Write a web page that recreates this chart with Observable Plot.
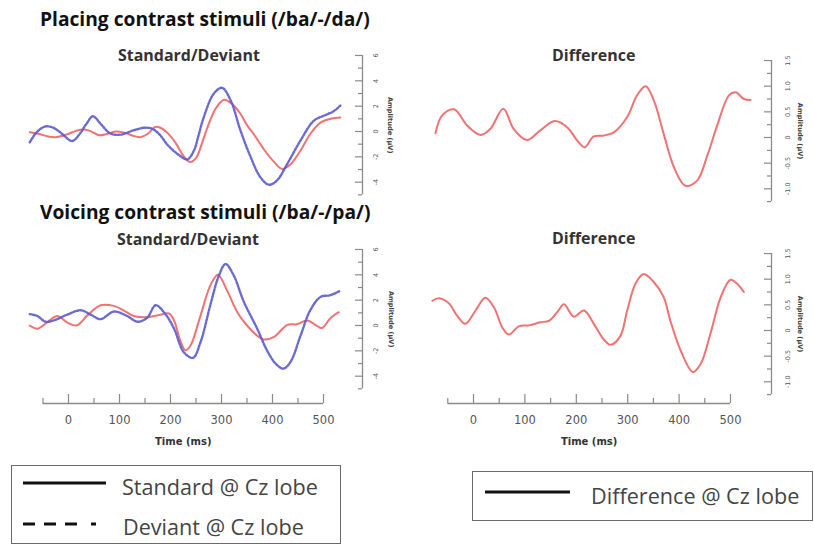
<!DOCTYPE html>
<html><head><meta charset="utf-8">
<script src="https://cdn.jsdelivr.net/npm/d3@7"></script>
<script src="https://cdn.jsdelivr.net/npm/@observablehq/plot@0.6"></script>
<style>
html,body{margin:0;padding:0;background:#fff;}
#root{position:relative;width:814px;height:545px;overflow:hidden;background:#fff;}
.abs{position:absolute;white-space:nowrap;line-height:1;}
</style></head><body><div id="root"></div>
<script>
// ---------------- DATA ----------------
// Placing contrast (/ba/-/da/) — Standard (solid red)
const placingStdTime = [-76,-61,-40,-25,-5,15,28,42,60,75,92,110,128,141,155,170,180,195,210,225,238,250,262,275,290,305,320,337,350,363,383,403,419,435,455,474,494,514,533];
const placingStdAmp  = [-0.05,-0.15,-0.4,-0.45,-0.25,0.05,0.15,0.05,-0.3,-0.2,0.0,-0.1,-0.35,-0.45,-0.2,0.35,0.3,-0.15,-0.9,-1.9,-2.4,-2.1,-0.9,0.6,1.9,2.5,2.2,1.4,0.5,-0.2,-1.4,-2.4,-2.95,-2.6,-1.5,-0.2,0.7,1.0,1.1];
// Placing contrast — Deviant (dotted blue)
const placingDevTime = [-76,-61,-45,-30,-15,7,20,35,48,63,82,102,128,150,165,180,193,213,233,246,255,265,285,301,318,337,357,376,393,409,429,455,481,501,520,533];
const placingDevAmp  = [-0.85,0.0,0.4,0.3,-0.1,-0.75,-0.3,0.6,1.2,0.6,-0.15,-0.25,0.1,0.3,0.2,-0.3,-1.0,-1.75,-2.2,-1.5,-0.3,1.1,3.0,3.45,2.45,0.1,-2.0,-3.6,-4.2,-3.85,-2.55,-0.7,0.85,1.25,1.6,2.05];
// Placing contrast — Difference
const placingDiffTime = [-74,-61,-38,-12,14,33,58,78,104,130,158,182,202,216,234,254,273,299,318,335,351,370,390,412,435,455,474,497,510,526,539];
const placingDiffAmp  = [0.08,0.43,0.55,0.23,0.05,0.17,0.56,0.17,-0.05,0.14,0.32,0.2,-0.06,-0.19,0.02,0.04,0.1,0.4,0.82,1.0,0.72,0.07,-0.58,-0.94,-0.84,-0.35,0.23,0.82,0.88,0.75,0.73];
// Voicing contrast (/ba/-/pa/) — Standard
const voicingStdTime = [-76,-61,-42,-22,-3,16,37,63,89,108,128,154,180,197,207,220,229,239,259,278,293,311,331,350,370,383,403,429,448,468,488,497,514,530];
const voicingStdAmp  = [0,-0.25,0.25,0.75,0.25,0.0,0.8,1.6,1.55,1.2,0.75,0.65,0.85,0.95,0.4,-1.3,-1.95,-1.6,0.8,3.15,4.0,2.75,1.05,0,-0.8,-1.1,-0.9,0.05,0.1,0.4,-0.05,-0.2,0.6,1.05];
// Voicing contrast — Deviant
const voicingDevTime = [-76,-61,-45,-29,-3,24,46,63,89,115,135,154,171,190,207,226,244,259,278,295,308,324,344,370,389,406,421,435,455,474,494,514,533];
const voicingDevAmp  = [0.9,0.75,0.3,0.4,0.85,1.2,0.8,0.5,1.1,0.75,0.3,0.6,1.6,0.9,-0.25,-2.1,-2.55,-1.3,1.6,3.95,4.85,3.95,1.85,-0.25,-1.95,-3.0,-3.4,-2.9,-0.8,1.2,2.25,2.4,2.75];
// Voicing contrast — Difference
const voicingDiffTime = [-80,-67,-48,-32,-16,4,23,40,56,69,88,108,130,147,163,176,195,215,234,254,267,286,299,315,331,351,370,383,403,427,442,461,481,500,513,526];
const voicingDiffAmp  = [0.58,0.63,0.53,0.29,0.13,0.39,0.64,0.45,0.06,-0.08,0.08,0.1,0.16,0.19,0.36,0.51,0.27,0.39,0.13,-0.18,-0.28,-0.1,0.39,0.91,1.1,0.94,0.65,0.19,-0.39,-0.81,-0.65,-0.06,0.65,0.99,0.91,0.75];

// Tick values and labels
const timeMajorTicks = [0,100,200,300,400,500];
const timeMinorTicks = [-50,50,150,250,350,450];
const ampMajorTicks = [6,4,2,0,-2,-4];
const ampMajorLabels = ["6","4","2","0","-2","-4"];
const ampMinorTicks = [5,3,1,-1,-3,-5];
const diffMajorTicks = [1.5,1.0,0.5,0,-0.5,-1.0];
const diffMajorLabels = ["1.5","1.0","0.5","0","-0.5","-1.0"];
const diffMinorTicks = [1.25,0.75,0.25,-0.25,-0.75,-1.25];

const titles = ["Placing contrast stimuli (/ba/-/da/)", "Voicing contrast stimuli (/ba/-/pa/)"];
const panelTitles = ["Standard/Deviant", "Difference"];
const legendLabels = ["Standard @ Cz lobe", "Deviant @ Cz lobe", "Difference @ Cz lobe"];
const yAxisLabel = "Amplitude (µV)";
const xAxisLabel = "Time (ms)";

// ---------------- STYLE ----------------
const RED = "#f07272", BLUE = "#5a5ad0", AXIS = "#8a8a8a", TICKTXT = "#555";
const root = document.getElementById("root");
const ctx = document.createElement("canvas").getContext("2d");

function fitSize(text, width, family, weight) {
  ctx.font = `${weight} 100px ${family}`;
  return 100 * width / ctx.measureText(text).width;
}
function label(text, x, cy, size, family, weight, color) {
  const el = document.createElement("div");
  el.className = "abs";
  el.textContent = text;
  el.style.font = `${weight} ${size}px ${family}`;
  el.style.color = color;
  el.style.left = x + "px";
  el.style.top = (cy - size * 0.53) + "px";
  root.appendChild(el);
}

function toSeries(ts, vs) { return ts.map((t, i) => ({t, v: vs[i]})); }

function panel(cfg) {
  const {left, top, w, h, X0, K, Y0, S, yDomain, yMajor, yLabels, yMinor, axisPx, tickLabelPx, ampPx, showX, series} = cfg;
  const invX = px => (px - X0) / K;
  const invY = py => (Y0 - py) / S;
  const [lo, hi] = yDomain;
  const marks = [
    Plot.ruleX([invX(axisPx)], {y1: lo, y2: hi, stroke: AXIS, strokeWidth: 1.3}),
    Plot.ruleY(yMajor, {x1: invX(axisPx - 7), x2: invX(axisPx), stroke: AXIS, strokeWidth: 1.2}),
    Plot.ruleY(yMinor, {x1: invX(axisPx - 4), x2: invX(axisPx), stroke: AXIS, strokeWidth: 1.2}),
    Plot.text(yMajor, {x: invX(tickLabelPx), y: d => d, text: (d, i) => yLabels[i], rotate: -90,
      fontSize: 6.5, fontFamily: "DejaVu Sans", fill: TICKTXT, textAnchor: "middle", lineAnchor: "middle"}),
    Plot.text([yAxisLabel], {x: invX(ampPx), y: (lo + hi) / 2, text: d => d, rotate: 90,
      fontSize: 6.6, fontWeight: "bold", fontFamily: "DejaVu Sans", fill: "#444", lineAnchor: "middle"})
  ];
  if (showX) {
    const axisY = invY(403);
    marks.push(
      Plot.ruleY([axisY], {x1: timeMinorTicks[0], x2: timeMajorTicks[timeMajorTicks.length - 1], stroke: AXIS, strokeWidth: 1.3}),
      Plot.ruleX(timeMajorTicks, {y1: axisY, y2: invY(394), stroke: AXIS, strokeWidth: 1.2}),
      Plot.ruleX(timeMinorTicks, {y1: axisY, y2: invY(398), stroke: AXIS, strokeWidth: 1.2}),
      Plot.text(timeMajorTicks, {x: d => d, y: invY(420), text: d => String(d), fontSize: 11.5,
        fontFamily: "DejaVu Sans", fill: TICKTXT, lineAnchor: "middle"}),
      Plot.text([xAxisLabel], {x: (timeMinorTicks[0] + timeMajorTicks[timeMajorTicks.length - 1]) / 2, y: invY(441),
        text: d => d, fontSize: 10, fontWeight: "bold", fontFamily: "DejaVu Sans", fill: "#333", lineAnchor: "middle"})
    );
  }
  for (const s of series) {
    marks.push(Plot.line(s.data, {x: "t", y: "v", stroke: s.color, strokeWidth: s.width,
      strokeDasharray: s.dash, strokeOpacity: s.opacity, curve: "catmull-rom"}));
  }
  const chart = Plot.plot({
    width: w, height: h, margin: 0,
    style: {background: "transparent", overflow: "visible"},
    x: {domain: [-80, 540], range: [X0 - left - 80 * K, X0 - left + 540 * K], axis: null},
    y: {domain: yDomain, range: [Y0 - top - S * lo, Y0 - top - S * hi], axis: null},
    marks
  });
  chart.style.position = "absolute";
  chart.style.left = left + "px";
  chart.style.top = top + "px";
  root.appendChild(chart);
}

// Panels
const std = (ts, vs) => ({data: toSeries(ts, vs), color: RED, width: 2, dash: null, opacity: 1});
const dev = (ts, vs) => ({data: toSeries(ts, vs), color: BLUE, width: 2.4, dash: "1.8,1.6", opacity: 0.9});

panel({left: 0, top: 38, w: 407, h: 170, X0: 68, K: 0.51, Y0: 131, S: 12.67, yDomain: [-5, 6],
  yMajor: ampMajorTicks, yLabels: ampMajorLabels, yMinor: ampMinorTicks, axisPx: 362, tickLabelPx: 375.5, ampPx: 390,
  showX: false, series: [std(placingStdTime, placingStdAmp), dev(placingDevTime, placingDevAmp)]});
panel({left: 407, top: 38, w: 407, h: 170, X0: 473, K: 0.514, Y0: 137, S: 51.3, yDomain: [-1.25, 1.5],
  yMajor: diffMajorTicks, yLabels: diffMajorLabels, yMinor: diffMinorTicks, axisPx: 771, tickLabelPx: 787, ampPx: 800,
  showX: false, series: [std(placingDiffTime, placingDiffAmp)]});
panel({left: 0, top: 222, w: 407, h: 230, X0: 68, K: 0.51, Y0: 325, S: 12.67, yDomain: [-5, 6],
  yMajor: ampMajorTicks, yLabels: ampMajorLabels, yMinor: ampMinorTicks, axisPx: 362, tickLabelPx: 375.5, ampPx: 391,
  showX: true, series: [std(voicingStdTime, voicingStdAmp), dev(voicingDevTime, voicingDevAmp)]});
panel({left: 407, top: 222, w: 407, h: 230, X0: 473, K: 0.514, Y0: 330, S: 51.3, yDomain: [-1.25, 1.5],
  yMajor: diffMajorTicks, yLabels: diffMajorLabels, yMinor: diffMinorTicks, axisPx: 771, tickLabelPx: 787, ampPx: 800,
  showX: true, series: [std(voicingDiffTime, voicingDiffAmp)]});

// Titles
const TF = "'Open Sans'";
const titleSize = fitSize(titles[0], 330, TF, "bold");
label(titles[0], 40, 15, titleSize, TF, "bold", "#111");
label(titles[1], 40, 208, titleSize, TF, "bold", "#111");
const subSize = fitSize(panelTitles[0], 142, TF, "bold");
label(panelTitles[0], 118, 52, subSize, TF, "bold", "#333");
label(panelTitles[0], 117, 236, subSize, TF, "bold", "#333");
label(panelTitles[1], 552, 52, subSize, TF, "bold", "#333");
label(panelTitles[1], 552, 235, subSize, TF, "bold", "#333");

// Legends
function box(x, y, w, h) {
  const el = document.createElement("div");
  el.style.cssText = `position:absolute;left:${x}px;top:${y}px;width:${w}px;height:${h}px;border:1.5px solid #6a6a6a;box-sizing:border-box;`;
  root.appendChild(el);
}
function sampleLine(x1, x2, y, dash) {
  const ns = "http://www.w3.org/2000/svg";
  const svg = document.createElementNS(ns, "svg");
  svg.setAttribute("width", 814); svg.setAttribute("height", 545);
  svg.style.cssText = "position:absolute;left:0;top:0;pointer-events:none;";
  const l = document.createElementNS(ns, "line");
  l.setAttribute("x1", x1); l.setAttribute("x2", x2); l.setAttribute("y1", y); l.setAttribute("y2", y);
  l.setAttribute("stroke", "#111"); l.setAttribute("stroke-width", 3);
  if (dash) l.setAttribute("stroke-dasharray", dash);
  svg.appendChild(l);
  root.appendChild(svg);
}
box(11, 465, 330, 79);
box(472, 471, 341, 50);
sampleLine(23, 106, 483, null);
sampleLine(23, 100, 524, "12 9 12 9 12 14 5 40");
sampleLine(485, 570, 492, null);
const LF = "'Open Sans'";
const legSize = fitSize(legendLabels[0], 196, LF, "normal");
label(legendLabels[0], 122, 483, legSize, LF, "normal", "#444");
label(legendLabels[1], 123, 523, legSize, LF, "normal", "#444");
label(legendLabels[2], 591, 492, legSize, LF, "normal", "#444");
</script></body></html>
